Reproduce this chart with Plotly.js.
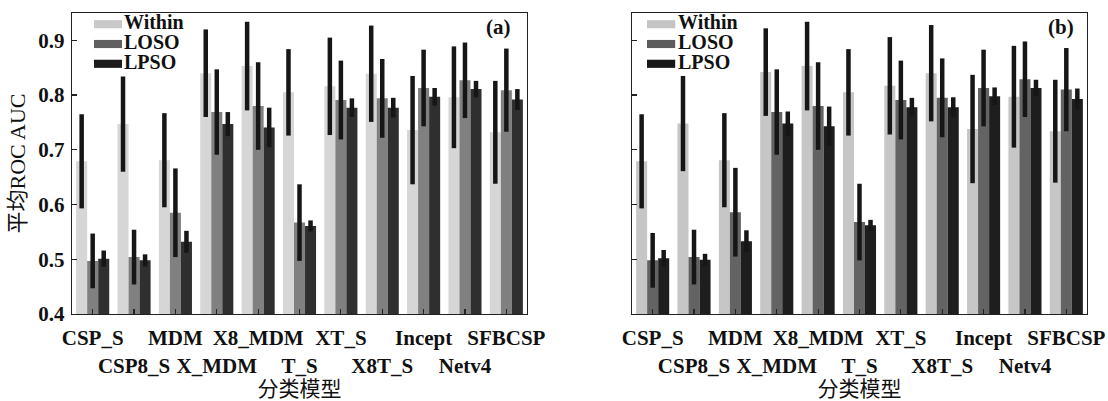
<!DOCTYPE html>
<html>
<head>
<meta charset="utf-8">
<script src="https://cdn.plot.ly/plotly-3.0.1.min.js"></script>
<style>html,body{margin:0;padding:0;background:#fff;}#chart{width:1108px;height:401px;}</style>
</head>
<body>
<div id="chart"></div>
<script>
// ---- data ----
const categories = ["CSP_S","CSP8_S","MDM","X_MDM","X8_MDM","T_S","XT_S","X8T_S","Incept","Netv4","SFBCSP"];
const seriesNames = ["Within","LOSO","LPSO"];
const panelLabels = ["(a)","(b)"];

// panel (a)
const withinA = [0.679,0.747,0.681,0.840,0.853,0.805,0.816,0.839,0.736,0.796,0.732];
const losoA   = [0.497,0.504,0.585,0.769,0.780,0.567,0.791,0.794,0.813,0.827,0.809];
const lpsoA   = [0.501,0.498,0.532,0.747,0.741,0.561,0.777,0.777,0.797,0.811,0.792];
const withinErrA = [0.086,0.087,0.086,0.080,0.081,0.079,0.089,0.088,0.099,0.093,0.094];
const losoErrA   = [0.050,0.050,0.081,0.078,0.080,0.070,0.072,0.072,0.070,0.069,0.076];
const lpsoErrA   = [0.015,0.011,0.020,0.022,0.036,0.010,0.017,0.018,0.016,0.015,0.019];

// panel (b)
const withinB = [0.679,0.748,0.681,0.842,0.853,0.805,0.817,0.840,0.738,0.797,0.734];
const losoB   = [0.498,0.504,0.586,0.769,0.780,0.568,0.791,0.795,0.813,0.829,0.810];
const lpsoB   = [0.502,0.499,0.533,0.748,0.743,0.562,0.778,0.778,0.798,0.813,0.793];
const withinErrB = [0.086,0.087,0.086,0.080,0.081,0.079,0.089,0.088,0.099,0.093,0.094];
const losoErrB   = [0.050,0.050,0.081,0.078,0.080,0.070,0.072,0.072,0.070,0.069,0.076];
const lpsoErrB   = [0.015,0.011,0.020,0.022,0.036,0.010,0.017,0.018,0.016,0.015,0.019];

// ---- styles ----
const barColorsA = ["#d6d6d6","#808080","#2f2f2f"];
const barColorsB = ["#c6c6c6","#636363","#1e1e1e"];
const legColorsA = ["#c8c8c8","#606060","#1c1c1c"];
const legColorsB = ["#c4c4c4","#5c5c5c","#171717"];
const serif = "'Liberation Serif','Times New Roman',serif";
const cjk = "'Liberation Serif','Noto Sans CJK SC',serif";

const tickText = categories.map((c,i)=> i%2===0 ? c : "<br>"+c);

function mk(y, err, name, color, xa, ya){
  return {type:'bar', x:categories, y:y, name:name, xaxis:xa, yaxis:ya,
    marker:{color:color, line:{width:0}}, showlegend:false,
    error_y:{type:'data', array:err, visible:true, thickness:4.5, width:0, color:'#161616'}};
}

const data = [
  mk(withinA, withinErrA, seriesNames[0], barColorsA[0], 'x','y'),
  mk(losoA,   losoErrA,   seriesNames[1], barColorsA[1], 'x','y'),
  mk(lpsoA,   lpsoErrA,   seriesNames[2], barColorsA[2], 'x','y'),
  mk(withinB, withinErrB, seriesNames[0], barColorsB[0], 'x2','y2'),
  mk(losoB,   losoErrB,   seriesNames[1], barColorsB[1], 'x2','y2'),
  mk(lpsoB,   lpsoErrB,   seriesNames[2], barColorsB[2], 'x2','y2')
];

function xax(domain, anchor){
  return {domain:domain, anchor:anchor, type:'category', range:[-0.5,10.5],
    tickmode:'array', tickvals:categories, ticktext:tickText,
    ticks:'inside', ticklen:5, tickwidth:1.2, tickcolor:'#222', tickangle:0,
    ticklabelstandoff:5,
    showline:true, mirror:true, linecolor:'#222', linewidth:1.2, showgrid:false, zeroline:false,
    tickfont:{family:serif, size:21, color:'#111', weight:'bold'},
    title:{text:'分类模型', font:{family:cjk, size:21, color:'#111'}, standoff:5}};
}
function yax(anchor, showLabels){
  return {anchor:anchor, range:[0.4,0.95], dtick:0.1, tick0:0.4, tickformat:'.1f',
    ticks:'inside', ticklen:5, tickwidth:1.2, tickcolor:'#222',
    ticklabelstandoff:2,
    showline:true, mirror:true, linecolor:'#222', linewidth:1.2, showgrid:false, zeroline:false,
    showticklabels:showLabels,
    tickfont:{family:serif, size:21, color:'#111', weight:'bold'},
    title: showLabels ? {text:'平均ROC AUC', font:{family:cjk, size:22, color:'#111'}, standoff:6} : {text:''}};
}

// legend drawn with shapes + one multi-line annotation per panel
const lineH = 19.8;                      // px between legend rows
const legBase = lineH / 1.3;             // annotation font (sets plotly line spacing)
const legShown = 20;                     // displayed glyph size
const shapes = [], annotations = [];
function legend(xr, yr, x0, x1, tx, cols){
  const midPx = 44;                      // middle entry centre, px from top of figure
  const plotTop = 13, plotH = 301;
  for(let i=0;i<3;i++){
    const px = midPx + (i-1)*lineH;
    const yc = (plotTop + plotH - px)/plotH;
    shapes.push({type:'rect', xref:xr, yref:yr, x0:x0, x1:x1, y0:yc-0.0135, y1:yc+0.0135,
      fillcolor:cols[i], line:{width:0}});
  }
  annotations.push({xref:xr, yref:yr, x:tx, y:(plotTop+plotH-midPx+2)/plotH, xanchor:'left', yanchor:'middle',
    align:'left',
    text:seriesNames.map(s=>'<span style="font-size:'+legShown+'px"><b>'+s+'</b></span>').join('<br>'),
    showarrow:false, font:{family:serif, size:legBase, color:'#111'}});
}
legend('x domain','y domain', 0.0484, 0.1099, 0.110, legColorsA);
legend('x2 domain','y2 domain', 0.033, 0.095, 0.097, legColorsB);
annotations.push({xref:'x domain', yref:'y domain', x:0.938, y:0.9535, xanchor:'center', yanchor:'middle',
  text:'<b>'+panelLabels[0]+'</b>', showarrow:false, font:{family:serif, size:21, color:'#111'}});
annotations.push({xref:'x2 domain', yref:'y2 domain', x:0.943, y:0.9535, xanchor:'center', yanchor:'middle',
  text:'<b>'+panelLabels[1]+'</b>', showarrow:false, font:{family:serif, size:21, color:'#111'}});

const layout = {
  width:1108, height:401, margin:{l:72, r:21, t:13, b:87},
  paper_bgcolor:'#fff', plot_bgcolor:'#fff',
  barmode:'group', bargap:0.2, bargroupgap:0,
  showlegend:false,
  xaxis: xax([0,0.4483],'y'),
  yaxis: yax('x', true),
  xaxis2: xax([0.5517,1],'y2'),
  yaxis2: yax('x2', false),
  shapes:shapes, annotations:annotations
};

Plotly.newPlot('chart', data, layout, {displayModeBar:false, staticPlot:true});
</script>
</body>
</html>
